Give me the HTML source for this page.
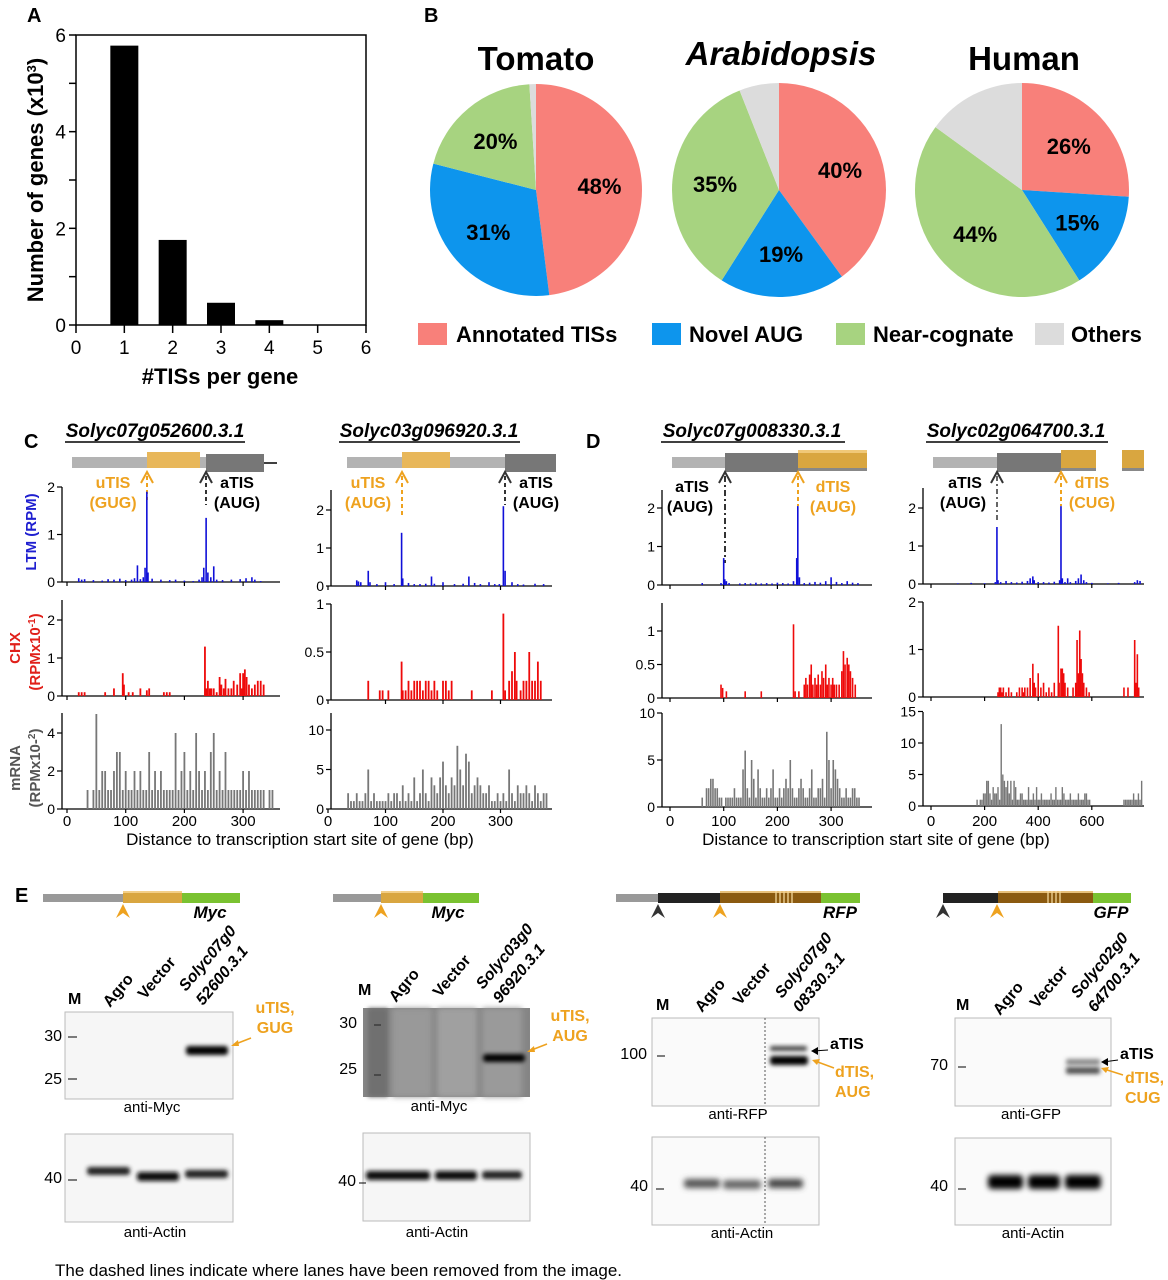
<!DOCTYPE html>
<html><head><meta charset="utf-8"><style>
html,body{margin:0;padding:0;background:#fff}
svg{display:block;font-family:"Liberation Sans",Arial,sans-serif}
.b{font-weight:bold}
</style></head><body>
<svg id="fig" width="1168" height="1280" viewBox="0 0 1168 1280" xmlns="http://www.w3.org/2000/svg">
<defs>
<filter id="blur1" x="-20%" y="-80%" width="140%" height="260%"><feGaussianBlur stdDeviation="2"/></filter>
<filter id="blur2" x="-20%" y="-80%" width="140%" height="260%"><feGaussianBlur stdDeviation="2.8"/></filter>
</defs>
<text x="27" y="22" font-size="20" class="b">A</text>
<text x="424" y="22" font-size="20" class="b">B</text>
<text x="24" y="448" font-size="20" class="b">C</text>
<text x="586" y="448" font-size="20" class="b">D</text>
<text x="15" y="902" font-size="20" class="b">E</text>

<g id="panelA">
<text transform="translate(43,180) rotate(-90)" text-anchor="middle" font-size="22" class="b">Number of genes (x10<tspan baseline-shift="super" font-size="13">3</tspan>)</text>
<text x="220" y="384" text-anchor="middle" font-size="22" class="b">#TISs per gene</text>
</g>

<g id="panelB">
<text x="536" y="70" text-anchor="middle" font-size="33" class="b">Tomato</text>
<text x="781" y="65" text-anchor="middle" font-size="33" class="b" font-style="italic">Arabidopsis</text>
<text x="1024" y="70" text-anchor="middle" font-size="33" class="b">Human</text>
<g>
<rect x="418" y="323" width="29" height="22" fill="#f8807a"/>
<text x="456" y="342" font-size="22" class="b">Annotated TISs</text>
<rect x="652" y="323" width="29" height="22" fill="#0d95ed"/>
<text x="689" y="342" font-size="22" class="b">Novel AUG</text>
<rect x="836" y="323" width="29" height="22" fill="#a7d380"/>
<text x="873" y="342" font-size="22" class="b">Near-cognate</text>
<rect x="1035" y="323" width="29" height="22" fill="#dcdcdc"/>
<text x="1071" y="342" font-size="22" class="b">Others</text>
</g>
</g>

<g font-size="19" class="b" font-style="italic">
<text x="155" y="437" text-anchor="middle">Solyc07g052600.3.1</text>
<line x1="65" y1="442" x2="245" y2="442" stroke="#000" stroke-width="1.5"/>
<text x="429" y="437" text-anchor="middle">Solyc03g096920.3.1</text>
<line x1="339" y1="442" x2="520" y2="442" stroke="#000" stroke-width="1.5"/>
<text x="752" y="437" text-anchor="middle">Solyc07g008330.3.1</text>
<line x1="661" y1="442" x2="845" y2="442" stroke="#000" stroke-width="1.5"/>
<text x="1016" y="437" text-anchor="middle">Solyc02g064700.3.1</text>
<line x1="926" y1="442" x2="1108" y2="442" stroke="#000" stroke-width="1.5"/>
</g>
<g>
<rect x="72" y="457" width="134" height="11" fill="#b3b3b3"/>
<rect x="147" y="452" width="53" height="16" fill="#e8b75a"/>
<rect x="206" y="454" width="58" height="18" fill="#777"/>
<line x1="264" y1="463" x2="277" y2="463" stroke="#000" stroke-width="1.5"/>
</g>
<g>
<rect x="347" y="457" width="209" height="11" fill="#b3b3b3"/>
<rect x="402" y="452" width="48" height="16" fill="#e8b75a"/>
<rect x="505" y="454" width="51" height="18" fill="#777"/>
</g>
<g>
<rect x="672" y="457" width="53" height="11" fill="#b3b3b3"/>
<rect x="725" y="453" width="73" height="19" fill="#777"/>
<rect x="798" y="450" width="69" height="18" fill="#d9a640"/>
<rect x="798" y="450" width="69" height="3" fill="#f0c878"/>
<rect x="798" y="468" width="69" height="3" fill="#888"/>
</g>
<g>
<rect x="933" y="457" width="64" height="11" fill="#b3b3b3"/>
<rect x="997" y="453" width="64" height="19" fill="#777"/>
<rect x="1061" y="450" width="35" height="18" fill="#d9a640"/>
<rect x="1061" y="468" width="35" height="3" fill="#888"/>
<rect x="1122" y="450" width="22" height="18" fill="#d9a640"/>
<rect x="1122" y="468" width="22" height="3" fill="#888"/>
</g>
<g font-size="16" class="b">
<line x1="147" y1="476" x2="147" y2="500" stroke="#eea21f" stroke-width="2" stroke-dasharray="4,3"/>
<path d="M141,483 L147,472 L153,483" fill="none" stroke="#eea21f" stroke-width="2"/>
<text x="113" y="488" text-anchor="middle" fill="#eea21f">uTIS</text>
<text x="113" y="508" text-anchor="middle" fill="#eea21f">(GUG)</text>
<line x1="206" y1="476" x2="206" y2="505" stroke="#333" stroke-width="2" stroke-dasharray="4,3"/>
<path d="M200,483 L206,472 L212,483" fill="none" stroke="#333" stroke-width="2"/>
<text x="237" y="488" text-anchor="middle" fill="#000">aTIS</text>
<text x="237" y="508" text-anchor="middle" fill="#000">(AUG)</text>

<line x1="402" y1="476" x2="402" y2="517" stroke="#eea21f" stroke-width="2" stroke-dasharray="4,3"/>
<path d="M396,483 L402,472 L408,483" fill="none" stroke="#eea21f" stroke-width="2"/>
<text x="368" y="488" text-anchor="middle" fill="#eea21f">uTIS</text>
<text x="368" y="508" text-anchor="middle" fill="#eea21f">(AUG)</text>
<line x1="505" y1="476" x2="505" y2="505" stroke="#333" stroke-width="2" stroke-dasharray="4,3"/>
<path d="M499,483 L505,472 L511,483" fill="none" stroke="#333" stroke-width="2"/>
<text x="536" y="488" text-anchor="middle" fill="#000">aTIS</text>
<text x="536" y="508" text-anchor="middle" fill="#000">(AUG)</text>

<line x1="725" y1="476" x2="725" y2="563" stroke="#333" stroke-width="2" stroke-dasharray="6,3,2,3"/>
<path d="M719,483 L725,472 L731,483" fill="none" stroke="#333" stroke-width="2"/>
<text x="692" y="492" text-anchor="middle" fill="#000">aTIS</text>
<text x="690" y="512" text-anchor="middle" fill="#000">(AUG)</text>
<line x1="798" y1="476" x2="798" y2="506" stroke="#eea21f" stroke-width="2" stroke-dasharray="4,3"/>
<path d="M792,483 L798,472 L804,483" fill="none" stroke="#eea21f" stroke-width="2"/>
<text x="833" y="492" text-anchor="middle" fill="#eea21f">dTIS</text>
<text x="833" y="512" text-anchor="middle" fill="#eea21f">(AUG)</text>

<line x1="997" y1="476" x2="997" y2="523" stroke="#333" stroke-width="1.5" stroke-dasharray="5,3,2,3"/>
<path d="M991,483 L997,472 L1003,483" fill="none" stroke="#333" stroke-width="2"/>
<text x="965" y="488" text-anchor="middle" fill="#000">aTIS</text>
<text x="963" y="508" text-anchor="middle" fill="#000">(AUG)</text>
<line x1="1061" y1="476" x2="1061" y2="506" stroke="#eea21f" stroke-width="2" stroke-dasharray="4,3"/>
<path d="M1055,483 L1061,472 L1067,483" fill="none" stroke="#eea21f" stroke-width="2"/>
<text x="1092" y="488" text-anchor="middle" fill="#eea21f">dTIS</text>
<text x="1092" y="508" text-anchor="middle" fill="#eea21f">(CUG)</text>
</g>
<g font-size="15" class="b">
<text transform="translate(36,532) rotate(-90)" text-anchor="middle" fill="#1f1fd0">LTM (RPM)</text>
<text transform="translate(20,648) rotate(-90)" text-anchor="middle" fill="#e0201a">CHX</text>
<text transform="translate(40,652) rotate(-90)" text-anchor="middle" fill="#e0201a">(RPMx10<tspan baseline-shift="super" font-size="10">-1</tspan>)</text>
<text transform="translate(20,768) rotate(-90)" text-anchor="middle" fill="#555">mRNA</text>
<text transform="translate(40,768) rotate(-90)" text-anchor="middle" fill="#555">(RPMx10-<tspan baseline-shift="super" font-size="10">2</tspan>)</text>
</g>
<text x="300" y="845" text-anchor="middle" font-size="17">Distance to transcription start site of gene (bp)</text>
<text x="876" y="845" text-anchor="middle" font-size="17">Distance to transcription start site of gene (bp)</text>

<g>
<rect x="43" y="894" width="80" height="8" fill="#999"/>
<rect x="123" y="891" width="59" height="12" fill="#d9a640"/><rect x="123" y="891" width="59" height="2" fill="#f3cf88"/>
<rect x="182" y="893" width="58" height="10" fill="#7ac231"/>
<path d="M116,918 L123,904 L130,918 L123,913 Z" fill="#eea21f"/>
<text x="210" y="918" text-anchor="middle" font-size="17" class="b" font-style="italic">Myc</text>
</g>
<g>
<rect x="333" y="894" width="48" height="8" fill="#999"/>
<rect x="381" y="891" width="42" height="12" fill="#d9a640"/><rect x="381" y="891" width="42" height="2" fill="#f3cf88"/>
<rect x="423" y="893" width="56" height="10" fill="#7ac231"/>
<path d="M374,918 L381,904 L388,918 L381,913 Z" fill="#eea21f"/>
<text x="448" y="918" text-anchor="middle" font-size="17" class="b" font-style="italic">Myc</text>
</g>
<g>
<rect x="616" y="894" width="42" height="8" fill="#999"/>
<rect x="658" y="893" width="62" height="10" fill="#222"/>
<rect x="720" y="891" width="101" height="12" fill="#8b5a10"/><rect x="720" y="891" width="101" height="2" fill="#e8c07a"/>
<g stroke="#f3d79a" stroke-width="1.3"><line x1="776" y1="891" x2="776" y2="903"/><line x1="780" y1="891" x2="780" y2="903"/><line x1="784" y1="891" x2="784" y2="903"/><line x1="788" y1="891" x2="788" y2="903"/><line x1="792" y1="891" x2="792" y2="903"/></g>
<rect x="821" y="893" width="39" height="10" fill="#7ac231"/>
<path d="M651,918 L658,904 L665,918 L658,913 Z" fill="#333"/>
<path d="M713,918 L720,904 L727,918 L720,913 Z" fill="#eea21f"/>
<text x="840" y="918" text-anchor="middle" font-size="17" class="b" font-style="italic">RFP</text>
</g>
<g>
<rect x="943" y="893" width="55" height="10" fill="#222"/>
<rect x="998" y="891" width="95" height="12" fill="#8b5a10"/><rect x="998" y="891" width="95" height="2" fill="#e8c07a"/>
<g stroke="#f3d79a" stroke-width="1.3"><line x1="1048" y1="891" x2="1048" y2="903"/><line x1="1052" y1="891" x2="1052" y2="903"/><line x1="1056" y1="891" x2="1056" y2="903"/><line x1="1060" y1="891" x2="1060" y2="903"/></g>
<rect x="1093" y="893" width="38" height="10" fill="#7ac231"/>
<path d="M936,918 L943,904 L950,918 L943,913 Z" fill="#333"/>
<path d="M990,918 L997,904 L1004,918 L997,913 Z" fill="#eea21f"/>
<text x="1111" y="918" text-anchor="middle" font-size="17" class="b" font-style="italic">GFP</text>
</g>
<g font-size="16" class="b">
<text x="68" y="1004">M</text>
<text transform="translate(110,1008) rotate(-50)">Agro</text>
<text transform="translate(145,1000) rotate(-50)">Vector</text>
<text transform="translate(186,992) rotate(-50)" font-style="italic">Solyc07g0</text>
<text transform="translate(203,1006) rotate(-50)" font-style="italic">52600.3.1</text>

<text x="358" y="995">M</text>
<text transform="translate(396,1003) rotate(-50)">Agro</text>
<text transform="translate(440,998) rotate(-50)">Vector</text>
<text transform="translate(483,990) rotate(-50)" font-style="italic">Solyc03g0</text>
<text transform="translate(500,1004) rotate(-50)" font-style="italic">96920.3.1</text>

<text x="656" y="1010">M</text>
<text transform="translate(702,1013) rotate(-50)">Agro</text>
<text transform="translate(740,1006) rotate(-50)">Vector</text>
<text transform="translate(782,999) rotate(-50)" font-style="italic">Solyc07g0</text>
<text transform="translate(800,1013) rotate(-50)" font-style="italic">08330.3.1</text>

<text x="956" y="1010">M</text>
<text transform="translate(1000,1016) rotate(-50)">Agro</text>
<text transform="translate(1037,1009) rotate(-50)">Vector</text>
<text transform="translate(1078,999) rotate(-50)" font-style="italic">Solyc02g0</text>
<text transform="translate(1095,1013) rotate(-50)" font-style="italic">64700.3.1</text>
</g>
<g>
<rect x="65" y="1012" width="168" height="87" fill="#f6f6f6" stroke="#bbb"/>
<rect x="186" y="1046" width="42" height="9" rx="3" fill="#000" filter="url(#blur1)"/>
<text x="62" y="1041" text-anchor="end" font-size="16">30</text><line x1="68" y1="1037" x2="77" y2="1037" stroke="#000"/>
<text x="62" y="1084" text-anchor="end" font-size="16">25</text><line x1="68" y1="1079" x2="77" y2="1079" stroke="#000"/>
<text x="152" y="1112" text-anchor="middle" font-size="15">anti-Myc</text>
<text x="275" y="1013" text-anchor="middle" font-size="16" class="b" fill="#eea21f">uTIS,</text>
<text x="275" y="1033" text-anchor="middle" font-size="16" class="b" fill="#eea21f">GUG</text>
<line x1="251" y1="1038" x2="233" y2="1045" stroke="#eea21f" stroke-width="1.5"/><path d="M231,1046 L238,1040 L239,1046 Z" fill="#eea21f"/>
</g>
<g>
<rect x="65" y="1134" width="168" height="88" fill="#f6f6f6" stroke="#bbb"/>
<rect x="87" y="1167" width="43" height="8" rx="3" fill="#222" filter="url(#blur1)"/>
<rect x="137" y="1172" width="42" height="9" rx="3" fill="#111" filter="url(#blur1)"/>
<rect x="185" y="1170" width="43" height="8" rx="3" fill="#222" filter="url(#blur1)"/>
<text x="62" y="1183" text-anchor="end" font-size="16">40</text><line x1="68" y1="1180" x2="77" y2="1180" stroke="#000"/>
<text x="155" y="1237" text-anchor="middle" font-size="15">anti-Actin</text>
</g>
<g>
<rect x="363" y="1008" width="167" height="89" fill="#858585"/>
<rect x="368" y="1008" width="20" height="89" fill="#6f6f6f" filter="url(#blur1)"/>
<rect x="392" y="1008" width="40" height="89" fill="#999" filter="url(#blur2)"/>
<rect x="437" y="1008" width="40" height="89" fill="#a0a0a0" filter="url(#blur2)"/>
<rect x="482" y="1008" width="40" height="89" fill="#9a9a9a" filter="url(#blur2)"/>
<rect x="483" y="1054" width="42" height="8" rx="3" fill="#000" filter="url(#blur1)"/>
<text x="357" y="1028" text-anchor="end" font-size="16">30</text><line x1="374" y1="1025" x2="381" y2="1025" stroke="#222"/>
<text x="357" y="1074" text-anchor="end" font-size="16">25</text><line x1="374" y1="1075" x2="381" y2="1075" stroke="#222"/>
<text x="439" y="1111" text-anchor="middle" font-size="15">anti-Myc</text>
<text x="570" y="1021" text-anchor="middle" font-size="16" class="b" fill="#eea21f">uTIS,</text>
<text x="570" y="1041" text-anchor="middle" font-size="16" class="b" fill="#eea21f">AUG</text>
<line x1="547" y1="1044" x2="529" y2="1051" stroke="#eea21f" stroke-width="1.5"/><path d="M527,1052 L534,1046 L535,1052 Z" fill="#eea21f"/>
</g>
<g>
<rect x="363" y="1133" width="167" height="88" fill="#f6f6f6" stroke="#bbb"/>
<rect x="366" y="1171" width="64" height="9" rx="3" fill="#111" filter="url(#blur1)"/>
<rect x="435" y="1171" width="42" height="9" rx="3" fill="#111" filter="url(#blur1)"/>
<rect x="482" y="1171" width="40" height="8" rx="3" fill="#222" filter="url(#blur1)"/>
<text x="356" y="1186" text-anchor="end" font-size="16">40</text><line x1="359" y1="1183" x2="366" y2="1183" stroke="#000"/>
<text x="437" y="1237" text-anchor="middle" font-size="15">anti-Actin</text>
</g>
<g>
<rect x="652" y="1018" width="167" height="88" fill="#fafafa" stroke="#bbb"/>
<line x1="765" y1="1018" x2="765" y2="1106" stroke="#555" stroke-dasharray="2,2"/>
<rect x="770" y="1046" width="37" height="5" rx="2" fill="#444" filter="url(#blur1)"/>
<rect x="770" y="1056" width="38" height="9" rx="3" fill="#000" filter="url(#blur1)"/>
<text x="647" y="1059" text-anchor="end" font-size="16">100</text><line x1="657" y1="1056" x2="665" y2="1056" stroke="#000"/>
<text x="738" y="1119" text-anchor="middle" font-size="15">anti-RFP</text>
<text x="830" y="1049" font-size="16" class="b">aTIS</text>
<line x1="828" y1="1050" x2="813" y2="1051" stroke="#000"/><path d="M811,1051 L818,1047 L818,1055 Z" fill="#000"/>
<text x="835" y="1077" font-size="16" class="b" fill="#eea21f">dTIS,</text>
<text x="835" y="1097" font-size="16" class="b" fill="#eea21f">AUG</text>
<line x1="834" y1="1068" x2="815" y2="1061" stroke="#eea21f" stroke-width="1.5"/><path d="M812,1060 L820,1059 L817,1065 Z" fill="#eea21f"/>
</g>
<g>
<rect x="652" y="1137" width="167" height="88" fill="#fafafa" stroke="#bbb"/>
<line x1="765" y1="1137" x2="765" y2="1225" stroke="#555" stroke-dasharray="2,2"/>
<rect x="684" y="1179" width="36" height="9" rx="3" fill="#555" filter="url(#blur2)"/>
<rect x="723" y="1180" width="38" height="9" rx="3" fill="#666" filter="url(#blur2)"/>
<rect x="768" y="1179" width="35" height="9" rx="3" fill="#444" filter="url(#blur2)"/>
<text x="648" y="1191" text-anchor="end" font-size="16">40</text><line x1="656" y1="1189" x2="664" y2="1189" stroke="#000"/>
<text x="742" y="1238" text-anchor="middle" font-size="15">anti-Actin</text>
</g>
<g>
<rect x="955" y="1018" width="156" height="88" fill="#fafafa" stroke="#bbb"/>
<rect x="1066" y="1059" width="34" height="6" rx="2" fill="#888" filter="url(#blur1)"/>
<rect x="1066" y="1067" width="34" height="7" rx="2" fill="#555" filter="url(#blur1)"/>
<text x="948" y="1070" text-anchor="end" font-size="16">70</text><line x1="958" y1="1067" x2="966" y2="1067" stroke="#000"/>
<text x="1031" y="1119" text-anchor="middle" font-size="15">anti-GFP</text>
<text x="1120" y="1059" font-size="16" class="b">aTIS</text>
<line x1="1118" y1="1060" x2="1103" y2="1062" stroke="#000"/><path d="M1101,1062 L1108,1058 L1108,1066 Z" fill="#000"/>
<text x="1125" y="1083" font-size="16" class="b" fill="#eea21f">dTIS,</text>
<text x="1125" y="1103" font-size="16" class="b" fill="#eea21f">CUG</text>
<line x1="1123" y1="1075" x2="1104" y2="1069" stroke="#eea21f" stroke-width="1.5"/><path d="M1101,1068 L1109,1067 L1106,1073 Z" fill="#eea21f"/>
</g>
<g>
<rect x="955" y="1138" width="156" height="87" fill="#fafafa" stroke="#bbb"/>
<rect x="988" y="1175" width="35" height="14" rx="4" fill="#000" filter="url(#blur2)"/>
<rect x="1028" y="1175" width="32" height="14" rx="4" fill="#000" filter="url(#blur2)"/>
<rect x="1065" y="1175" width="36" height="14" rx="4" fill="#000" filter="url(#blur2)"/>
<text x="948" y="1191" text-anchor="end" font-size="16">40</text><line x1="958" y1="1189" x2="966" y2="1189" stroke="#000"/>
<text x="1033" y="1238" text-anchor="middle" font-size="15">anti-Actin</text>
</g>
<text x="55" y="1276" font-size="17">The dashed lines indicate where lanes have been removed from the image.</text>
</svg>
<script>
const tisCategories = [1, 2, 3, 4, 5];
const tisCounts = [5.78, 1.76, 0.46, 0.1, 0.01];
const tisXTicks = [0, 1, 2, 3, 4, 5, 6];
const tisYTicks = [0, 2, 4, 6];
const pieNames = ["tomato", "arabidopsis", "human"];
const pieAnnotated = [48, 40, 26];
const pieNovel = [31, 19, 15];
const pieNear = [20, 35, 44];
const pieOthers = [1, 6, 15];
const c1LtmPos = [20,25,30,45,60,70,80,90,100,110,115,120,125,130,133,136,138,145,160,175,185,200,215,225,230,233,237,240,245,250,255,265,280,295,305,315,320,330];
const c1LtmVal = [.08,.05,.06,.04,.03,.06,.05,.07,.04,.05,.08,.35,.06,.1,.3,1.9,.2,.07,.05,.04,.05,.03,.02,.05,.1,.3,1.35,.2,.1,.33,.05,.04,.05,.06,.08,.1,.05,.02];
const c1ChxPos = [20,25,30,65,80,95,97,105,112,125,136,140,165,170,175,235,237,240,243,246,250,255,260,263,267,270,275,280,284,290,295,298,300,303,306,310,315,320,325,330,335];
const c1ChxVal = [.1,.1,.1,.1,.2,.6,.3,.1,.1,.2,.15,.2,.1,.1,.1,1.3,.2,.4,.2,.2,.2,.1,.5,.3,.2,.45,.2,.2,.4,.3,.6,.2,.6,.7,.5,.3,.2,.3,.4,.4,.3];
const c1MrnaStart = 35, c1MrnaStep = 5;
const c1MrnaVal = [1,0,1,5,1,2,2,1,1,2,3,3,1,2,1,1,2,1,2,1,1,3,1,2,1,2,1,1,1,1,4,1,2,3,1,2,1,4,2,1,2,1,3,4,1,2,1,3,1,1,1,1,1,2,1,2,1,1,1,1,1,0,1,1];

const c2LtmPos = [50,53,57,70,73,85,100,115,128,130,140,150,160,170,180,185,200,220,235,245,255,265,280,290,298,305,308,320,330,340,360,375];
const c2LtmVal = [.15,.12,.1,.4,.1,.05,.1,.05,1.4,.2,.08,.05,.05,.06,.25,.06,.1,.05,.06,.25,.08,.05,.1,.05,.05,2.1,.4,.1,.05,.04,.06,.05];
const c2ChxPos = [70,90,95,105,128,130,135,140,145,150,155,160,165,170,175,180,185,190,200,205,210,215,250,285,305,308,315,320,325,328,335,340,345,350,355,360,365,370];
const c2ChxVal = [.2,.1,.1,.1,.4,.1,.1,.2,.1,.2,.2,.2,.1,.2,.2,.1,.2,.1,.2,.2,.1,.2,.1,.1,.9,.1,.2,.3,.5,.2,.1,.2,.2,.5,.2,.2,.4,.2];
const c2MrnaStart = 35, c2MrnaStep = 5;
const c2MrnaVal = [2,1,1,2,1,1,2,5,1,2,1,1,1,1,2,1,2,2,1,3,1,2,1,4,1,2,5,2,1,4,3,2,4,6,3,2,4,3,8,5,3,7,6,2,3,4,3,2,2,3,1,1,2,1,2,1,5,2,1,3,2,2,3,2,1,3,2,1,2,2];

const d1LtmPos = [60,95,100,102,105,110,130,140,150,160,170,180,190,200,210,220,230,236,238,241,250,260,270,280,290,300,310,320,330,340,350];
const d1LtmVal = [.05,.05,.7,.15,.1,.05,.04,.05,.04,.06,.04,.05,.04,.06,.05,.04,.1,.7,2.05,.2,.05,.06,.08,.06,.1,.2,.08,.05,.1,.06,.05];
const d1ChxPos = [95,98,105,140,170,230,233,240,250,253,256,260,263,266,270,273,276,280,283,286,290,293,296,300,303,306,310,315,320,323,326,330,333,336,340,345];
const d1ChxVal = [.2,.15,.1,.1,.1,1.1,.1,.1,.2,.3,.2,.35,.5,.2,.3,.2,.35,.2,.4,.3,.5,.2,.3,.2,.3,.2,.2,.2,.4,.7,.5,.6,.5,.4,.3,.2];
const d1MrnaStart = 60, d1MrnaStep = 4;
const d1MrnaVal = [1,0,2,2,3,3,2,2,1,1,0,1,1,1,1,2,1,1,1,4,6,2,1,5,3,1,4,2,1,1,2,1,2,4,1,1,2,1,2,3,2,5,2,1,1,2,3,2,1,1,2,4,1,1,2,2,3,1,8,5,2,5,4,3,2,1,1,2,1,1,2,2,1,1];

const d2LtmPos = [100,150,200,240,246,250,260,280,300,320,340,360,370,380,385,400,420,440,460,480,485,490,500,510,520,540,550,560,570,580,600,660,700,760,770,780];
const d2LtmVal = [.02,.03,.02,.05,1.5,.1,.05,.08,.05,.04,.06,.08,.15,.2,.1,.05,.05,.04,.06,.1,2.05,.15,.05,.15,.05,.08,.15,.25,.1,.05,.03,.02,.03,.05,.1,.08];
const d2ChxPos = [250,255,260,265,270,280,290,300,320,330,340,345,350,360,370,380,385,390,400,410,420,430,440,450,460,475,478,485,490,495,500,510,530,540,545,550,555,560,565,570,580,590,720,735,760,765,770,775];
const d2ChxVal = [.1,.2,.2,.1,.2,.1,.2,.1,.1,.2,.2,.1,.2,.2,.4,.7,.3,.2,.5,.2,.3,.1,.2,.1,.3,1.5,.3,.6,.6,.5,.3,.2,.2,.3,1.2,.5,1.4,.8,.5,.3,.2,.1,.2,.2,1.2,.3,.9,.2];
const d2MrnaStart = 172, d2MrnaStep = 6;
const d2MrnaVal = [1,0,1,1,2,2,4,4,2,1,3,2,2,3,1,13,5,4,3,4,2,4,1,4,3,1,1,2,2,1,1,1,3,1,1,2,1,3,1,1,2,1,1,1,1,1,2,1,1,3,1,1,1,3,2,1,1,1,2,1,1,1,1,2,1,1,1,2,2,1,1];
const d2Mrna2Start = 720, d2Mrna2Step = 6;
const d2Mrna2Val = [1,1,1,1,1,1,2,1,1,2,1,4];

const c1YTicks = [[0,1,2],[0,1,2],[0,2,4]];
const c2YTicks = [[0,1,2],[0,0.5,1],[0,5,10]];
const d1YTicks = [[0,1,2],[0,0.5,1],[0,5,10]];
const d2YTicks = [[0,1,2],[0,1,2],[0,5,10,15]];
const c1XTicks = [0,100,200,300];
const c2XTicks = [0,100,200,300];
const d1XTicks = [0,100,200,300];
const d2XTicks = [0,200,400,600];

const NS = "http://www.w3.org/2000/svg";
const svg = document.getElementById("fig");
function el(tag, attrs, parent) {
  const e = document.createElementNS(NS, tag);
  for (const k in attrs) e.setAttribute(k, attrs[k]);
  (parent || svg).appendChild(e);
  return e;
}

(function () {
  const g = document.getElementById("panelA");
  const x0 = 76, x1 = 366, y0 = 325, y1 = 35;
  const xs = v => x0 + v / 6 * (x1 - x0);
  const ys = v => y0 - v / 6 * (y0 - y1);
  el("rect", {x: x0, y: y1, width: x1 - x0, height: y0 - y1, fill: "none", stroke: "#000", "stroke-width": 1.5}, g);
  tisCategories.forEach((c, i) => {
    const r = el("rect", {x: xs(c) - 14, y: ys(tisCounts[i]), width: 28, height: y0 - ys(tisCounts[i]), fill: "#000"}, g);
    
    
  });
  tisXTicks.forEach(t => {
    el("line", {x1: xs(t), y1: y0, x2: xs(t), y2: y0 + 8, stroke: "#000", "stroke-width": 1.5}, g);
    const tx = el("text", {x: xs(t), y: y0 + 29, "text-anchor": "middle", "font-size": 19}, g);
    tx.textContent = t;
    
    
  });
  for (let t = 0; t <= 6; t++) {
    el("line", {x1: x0 - 7, y1: ys(t), x2: x0, y2: ys(t), stroke: "#000", "stroke-width": 1.5}, g);
  }
  tisYTicks.forEach(t => {
    const tx = el("text", {x: x0 - 10, y: ys(t) + 7, "text-anchor": "end", "font-size": 19}, g);
    tx.textContent = t;
    
    
  });
})();

(function () {
  const g = document.getElementById("panelB");
  const centers = [[536, 190, 106], [779, 190, 107], [1022, 190, 107]];
  const colors = ["#f8807a", "#0d95ed", "#a7d380", "#dcdcdc"];
  pieNames.forEach((name, i) => {
    const vals = [pieAnnotated[i], pieNovel[i], pieNear[i], pieOthers[i]];
    const tot = vals.reduce((a, b) => a + b, 0);
    const [cx, cy, r] = centers[i];
    let a = 0;
    vals.forEach((v, j) => {
      const a0 = a / tot * 2 * Math.PI, a1 = (a + v) / tot * 2 * Math.PI;
      a += v;
      const p0 = [cx + r * Math.sin(a0), cy - r * Math.cos(a0)];
      const p1 = [cx + r * Math.sin(a1), cy - r * Math.cos(a1)];
      const large = (a1 - a0) > Math.PI ? 1 : 0;
      const s = el("path", {d: `M${cx},${cy} L${p0[0]},${p0[1]} A${r},${r} 0 ${large} 1 ${p1[0]},${p1[1]} Z`, fill: colors[j]}, g);
      
      
      if (j < 3) {
        const m = (a0 + a1) / 2;
        const t = el("text", {x: cx + 0.6 * r * Math.sin(m), y: cy - 0.6 * r * Math.cos(m) + 8, "text-anchor": "middle", "font-size": 22, "font-weight": "bold"}, g);
        t.textContent = v + "%";
        
        
      }
    });
  });
})();

function drawColumn(name, axX, originX, pxPerBp, endX, rows, yTicks, xTicks) {
  const xs = bp => originX + bp * pxPerBp;
  const g = el("g", {});
  
  
  rows.forEach((row, ri) => {
    const ys = v => row.base - v * row.ppu;
    el("line", {x1: axX, y1: row.top, x2: axX, y2: row.base, stroke: "#000", "stroke-width": 1.3}, g);
    el("line", {x1: axX, y1: row.base, x2: endX, y2: row.base, stroke: "#000", "stroke-width": 1.3}, g);
    yTicks[ri].forEach(t => {
      el("line", {x1: axX - 5, y1: ys(t), x2: axX, y2: ys(t), stroke: "#000", "stroke-width": 1.2}, g);
      const tx = el("text", {x: axX - 7, y: ys(t) + 5, "text-anchor": "end", "font-size": 14}, g);
      tx.textContent = t;
      
      
    });
    xTicks.forEach(t => {
      el("line", {x1: xs(t), y1: row.base, x2: xs(t), y2: row.base + 4, stroke: "#000", "stroke-width": 1.2}, g);
    });
    row.series.forEach(s => {
      s.vals.forEach((v, i) => {
        const bp = s.pos ? s.pos[i] : s.start + i * s.step;
        if (v <= 0) return;
        const b = el("rect", {x: xs(bp) - s.w / 2, y: ys(v), width: s.w, height: row.base - ys(v), fill: row.color}, g);
        
        
      });
    });
  });
  xTicks.forEach(t => {
    const tx = el("text", {x: xs(t), y: 826, "text-anchor": "middle", "font-size": 15}, g);
    tx.textContent = t;
    
    
  });
}
const BLUE = "#1010d8", RED = "#ee0a0a", GRAY = "#777";
drawColumn("c1", 62, 67, 0.587, 280, [
  {kind: "ltm", top: 487, base: 582, ppu: 47.5, color: BLUE, series: [{pos: c1LtmPos, vals: c1LtmVal, w: 1.6}]},
  {kind: "chx", top: 600, base: 696, ppu: 38, color: RED, series: [{pos: c1ChxPos, vals: c1ChxVal, w: 1.8}]},
  {kind: "mrna", top: 713, base: 809, ppu: 19, color: GRAY, series: [{start: c1MrnaStart, step: c1MrnaStep, vals: c1MrnaVal, w: 1.8}]}
], c1YTicks, c1XTicks);
drawColumn("c2", 331, 328, 0.575, 552, [
  {kind: "ltm", top: 490, base: 586, ppu: 38, color: BLUE, series: [{pos: c2LtmPos, vals: c2LtmVal, w: 1.6}]},
  {kind: "chx", top: 604, base: 700, ppu: 96, color: RED, series: [{pos: c2ChxPos, vals: c2ChxVal, w: 1.8}]},
  {kind: "mrna", top: 713, base: 809, ppu: 7.9, color: GRAY, series: [{start: c2MrnaStart, step: c2MrnaStep, vals: c2MrnaVal, w: 1.8}]}
], c2YTicks, c2XTicks);
drawColumn("d1", 662, 670, 0.537, 872, [
  {kind: "ltm", top: 490, base: 585, ppu: 38.5, color: BLUE, series: [{pos: d1LtmPos, vals: d1LtmVal, w: 1.6}]},
  {kind: "chx", top: 603, base: 698, ppu: 67, color: RED, series: [{pos: d1ChxPos, vals: d1ChxVal, w: 1.6}]},
  {kind: "mrna", top: 713, base: 807, ppu: 9.4, color: GRAY, series: [{start: d1MrnaStart, step: d1MrnaStep, vals: d1MrnaVal, w: 1.6}]}
], d1YTicks, d1XTicks);
drawColumn("d2", 923, 931, 0.268, 1144, [
  {kind: "ltm", top: 488, base: 584, ppu: 38, color: BLUE, series: [{pos: d2LtmPos, vals: d2LtmVal, w: 1.6}]},
  {kind: "chx", top: 602, base: 697, ppu: 47.5, color: RED, series: [{pos: d2ChxPos, vals: d2ChxVal, w: 1.6}]},
  {kind: "mrna", top: 712, base: 806, ppu: 6.3, color: GRAY, series: [
    {start: d2MrnaStart, step: d2MrnaStep, vals: d2MrnaVal, w: 1.4},
    {start: d2Mrna2Start, step: d2Mrna2Step, vals: d2Mrna2Val, w: 1.4}]}
], d2YTicks, d2XTicks);
</script>
</body></html>
